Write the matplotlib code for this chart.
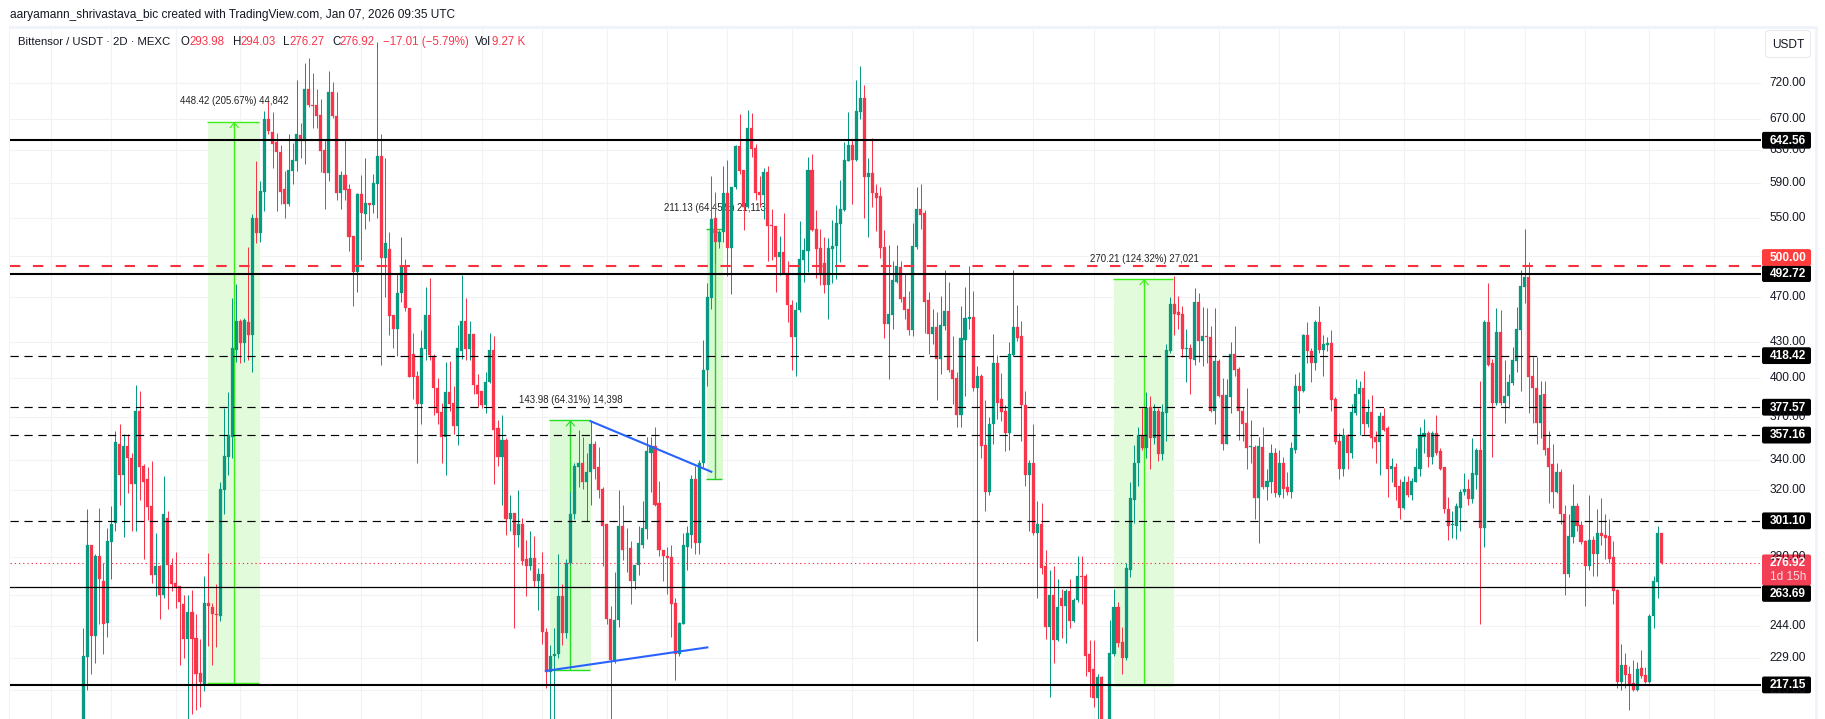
"""
Bittensor / USDT 2D candles with drawn levels, recreated from a TradingView snapshot.
"""

import matplotlib
matplotlib.use("Agg")
import matplotlib.pyplot as plt
from matplotlib.patches import FancyBboxPatch, Rectangle

opens = [
    195,229.5,287,239.5,281,267,245.5,288.5,300,351,
    330,349.5,341.5,324,375,336,327,310,270.5,275,
    259.5,303,276,266,264.5,255,238,251,238.5,222.5,
    217.5,255.5,253.5,250,249,320,342,356,423,448,
    429,447,436,550,534,580,670,653,640,628,
    583,566,605,617,649,642,712,690,689,676,
    630,602,708,675,578,600,583,531,494,577,
    555,567,565,589,623,508,517,454,441,474,
    499,460,420,402,380,424,454,418,392,374,
    356,389,381,364,422,448,424,437,395,390,
    379,397,423,362,342,354,302,306,293,299.5,
    279,275,279.5,267,271,241.5,223,230,231,259,
    241,277,305,335,338,325,332,351,335,321,
    299,247.5,228,247,298,285,285,267,276,287,
    296,345,349.5,312,284,281,280,255.5,231,245,
    286,293,327,288,338,407,469,550,525,535,
    578,518,585,635,606,563,658,633,580,576,
    603,543,542,509,514,493,463,434,458,506,
    515,606,538,518,503,482,517,521,544,559,
    617,637,618,680,699,597,602,579,575,519,
    446,454,485,499,470,459,440,520,560,556,
    467,437,443,416,444,457,407,400,372,432,
    450,452,392,402,350,319,365,412,384,375,
    359,419,443,435,379,330,338,294,299.5,275,
    243.5,259.5,237.5,258,254,262,246.5,257,270,269.5,
    231,224,211.5,220.5,200,198,231,253.5,236.5,229,
    273,314,338,357,348,378,355,375,344,373,
    422,464,456,455,424,425,415,466,431,435,
    434,375,414,387,351,385,420,407.5,375,366,
    349,349,315,349,322,325,345,317,338,322,
    319,347,394,390,436,422,412,447,423,427,
    429,384,353,334,357.5,345,373,388,392,365,
    374,356,352,371,362,334,335,323,309,325,
    317,325,334,356,359,342,359,346,335,308.5,
    298.5,298,309,319,321,314.5,330,347,297,447,
    412,381,439,381,386,396,414,440,480,489,
    402,392,366,388,348,337,319,332,305.5,271,
    291.5,310,298.5,289,275,290,282,294,293,292,
    280,262.5,218.5,226,222,218,215,224.5,221.5,218.5,
    249,266.5,293.98,
]
highs = [
    243,308,287,282,309,277,297,310,360,365,
    358,358,345,395,390,337,335,339,294,276,
    329.5,307,279.5,283,264.5,259.5,259.5,262.5,250,238,
    270,282.5,255.5,265.5,325.5,377,389,469,483,450,
    451,520,555,617,592,681,693,680,652,637,
    605,650,639,725,665,750,757,735,712,697,
    643,737,722,708,605,644,589,531,578,600,
    620,567,601,782,651,620,535,454,492,530,
    507,460,438,406,440,480,488,420,400,381,
    413,414,394,445,491,469,448,437,403,390,
    405,438,435,368,372,355,317,306,320,303,
    290,295,292,274,283,243,235,243,282,265.5,
    279,319,338,361,356,345,367,353,349,322,
    299,254,272,320,311,297,289.5,276,298,313,
    356,356,363,326,284,286,287,258,246,294,
    298,330,336,340,432,484,599,580,537,610,
    618,586,636,677,606,682,678,638,599,608,
    610,560,542,531,556,505,467,466,547,529,
    622,625,559,538,530,529,548,565,594,640,
    680,643,725,745,717,620,646,589,586,537,
    522,505,522,505,492,476,545,586,589,559,
    475,459,456,471,496,485,435,405,462,480,
    500,476,410,403,383,370,437,419,404,379,
    430,496,463,448,390,340,365,313,312,284,
    273,275,268,263,263,268,258,281,281,271,
    237.5,237.5,222,221,201,247,263,256,243.5,277,
    325.5,350.5,363,377,389,386,380,377,380,428,
    470,490,471,462,441,428,479,474,461,460,
    444,460,416,400,399,430,444,409,378,392,
    368,350,356,363,334,351,348,347,342,332,
    352,403,405,437,447,425,449,462,436,434,
    440,385,359,362,358,380,399,398,406,384,
    387,360,374,377,364,341,338,327,329,329,
    328,348,363,369,360,360,372,348,335,316,
    307,312,321,331,327,355,348,398,449,484,
    416,460,458,415,403,426,461,496,539,504,
    417,417,398,398,360,351,338,334,311,305,
    324,312,301,290,317,292,308,315,305,302,
    289,263,235.5,231.5,225.5,228,227.5,233,225,250,
    270,298,294.03,
]
lows = [
    190,215,222,227,245,231,239,268,295,311,
    291.5,318,295,295,314,279,301.5,266,259,247.5,
    258,252.5,262,253,226,229,203,205,206.5,208,
    214.5,234.5,226,234,246.5,305,330,341,413,412.5,
    413,415,405,524,525,558,650,608,558,566,
    550,564,589,604,620,613,687,658,659,603,
    560,593,672,571,560,571,515,462,475,506,
    539,547,556,550,411,470,436,425,418,466,
    457,401,384,338,365,415,415,372,365,338,
    330,375,358,350,416,415,415,388,378,377,
    373,396,324,336,311,293,295,243,286,276,
    259,273,264,252,235.5,216,203,203,229,235,
    238.5,276,302,322,321,301,311,327,315,275,
    245,203,227,243.5,278.5,272,255,263,270.5,285,
    290.5,319,310,281,267,260.5,239,219.5,230,245,
    273,285,282,282,335,394,459,503,518,525,
    490,473,583,601,537,561,621,571,563,549,
    505,506,475,491,492,447,407,402,456,485,
    494,536,488,482,474,450,484,487,504,558,
    617,566,617,671,550,530,563,536,508,433,
    399,441,484,466,450,436,435,517,539,438,
    420,428,383,403,440,405,380,363,363,386,
    441,390,237,341,307,317,351,369,367,346,
    347,418,431,353,323,295,293,258,271,238,
    212,227,237,238.5,236,243,246,256,255,221,
    212,208,203,200,195,195,230,234,222,228,
    269,300,323,347,341,334,351,339,340,353,
    421,436,441,417,397,388,411,413,410,412,
    374,365,385,347,351,373,402,354,353,334,
    338,302,288,321,314,318,316,316,315,317,
    315,345,373,389,412,397,407,421,402,422,
    375,351,327,329,334,341,372,357,357,363,
    348,338,330,360,316,325,314,302,308,316,
    314,325,329,345,335,337,343,333,306,290,
    291,290.5,295,317,311,312,321,245,286,410,
    342,379,379,366,377,395,405,390,465,373,
    366,351,355,343,312,309,318,299,260,269,
    288,295,287.5,254,273,270,270,287,279,277,
    255,216,215,216,206.5,214.5,214.5,220,218,218,
    243,258,276.27,
]
closes = [
    230,287,239.5,281,268,245,289.5,299,352.5,330,
    349.5,341,324,375,335,325.5,309.5,270.5,275,259.5,
    305,276,265.5,264,256,238,251,238,222,218.5,
    255.5,254,250,249.5,320.5,342.5,357.5,425,448,429,
    449,436,550,534,581,670,655,638,628,580,
    566,606,618,650,642,712,689,688,675,629,
    602,708,674,578,600,582,530,494,577,556,
    567,565,590,623,508,524,453,441,474,499,
    460,401,401,380,425,454,419,392,373,356,
    389,380,364,425,448,424,437,395,388,379,
    397,423,361,342,354,302,306,293,299,278,
    275,279.5,267,271,241.5,223,230,231,259,241,
    277,305,336,338,325,332,351,334,320,298,
    247.5,228,247,298,284,285.5,267,276,288,297,
    346,349.5,311,284,281,279.5,255,231,245.5,287,
    294,327,288,338,407,470,549,525,535,578,
    518,586,635,605,563,658,632,579,576,603,
    542,542,509,514,492,463,434,458,507,516,
    606,537,517,491,482,518,521,545,560,618,
    637,618,681,699,597,602,578,573,518,446,
    455,486,500,468,458,440,521,560,554,466,
    437,443,416,445,457,407,399,372,433,451,
    452,392,402,349.5,319,365,412,381,374,359,
    420,443,433,379,330,338,294,299.5,274,243.5,
    259.5,237.5,253.5,254,262,246.5,257,270,269,230,
    223,211.5,220.5,203,197,231.5,253.5,236,229,274,
    315,338,357,348,377,355,375,344,374,423,
    464,455,454,424,425,416,466,431,435,434,
    375,414,386,351,387,420,407,375,365,348,
    349.5,315,349.5,322,326,345,318,338,321,319,
    348,394,390,436,422,412,447,423,428,429,
    383,352,334,357.5,345,374,388,392,365,374,
    355,352,371,361,334,336,322,309,325,317,
    326,335,357,359,342,359,345,334,308,298,
    299,310,319,321,314.5,331,347,297,447,411,
    381,439,381,386,397,415,441,481,489,401,
    392,366,387,347,335,319,332,305,271,292,
    310,298,288.5,275,290,282,294,292,291,279,
    262,218.5,226,221.5,217.5,215,224,221,218.5,249,
    267,294,276.92,
]

# bar numbers where the time grid falls
time_grid = [-8, 7, 23, 39, 53, 69, 84, 99, 114, 130, 145, 160, 176, 191, 206, 221, 236,
             251, 266, 282, 297, 312, 328, 343, 358, 373, 389, 405]
price_grid = [720, 670, 630, 590, 550, 510, 470, 430, 400, 370, 340, 320, 280, 260, 244, 229, 215]
# 510 and 260 sit fully behind the value labels, so they get no text
tick_prices = [720, 670, 630, 590, 550, 470, 430, 400, 370, 340, 320, 280, 244, 229, 215]
tick_labels = ["720.00", "670.00", "630.00", "590.00", "550.00", "470.00", "430.00", "400.00",
               "370.00", "340.00", "320.00", "280.00", "244.00", "229.00", "215.00"]

thick_levels = [642.56, 492.72, 217.15]
thin_levels = [263.69]
dashed_levels = [418.42, 377.57, 357.16, 301.10]
red_level = 500.00
last_close = 276.92

# price range tools: start bar, end bar, base, top, label
range_starts = [31, 116, 155, 256]
range_ends = [44, 126, 159, 271]
range_bases = [218.00, 223.90, 327.58, 217.15]
range_tops = [666.42, 367.88, 538.71, 487.36]
range_labels = ["448.42 (205.67%) 44,842", "143.98 (64.31%) 14,398",
                "211.13 (64.45%) 21,113", "270.21 (124.32%) 27,021"]
range_fills = ["#e2fcdb", "#dcfad6", "#dafad2", "#e2fcdb"]
range_lines = ["#3cf015", "#22dd22", "#22cc22", "#3cf015"]

trend_x = [[126, 156], [114.9, 155]]
trend_y = [[367.2, 332.0], [223.3, 234.0]]

UP = "#089981"
DOWN = "#f7364c"
INK = "#131722"
GRID = "#f1f2f4"
FONT = ["Liberation Sans", "DejaVu Sans"]

plt.rcParams["font.family"] = FONT

fig = plt.figure(figsize=(18.25, 7.19), dpi=100, facecolor="white")
ax = fig.add_axes([10 / 1825, 0, (1761 - 10) / 1825, (719 - 29) / 719])
ax.set_yscale("log")
ax.set_xlim(-18.2, 416.7)
ax.set_ylim(202.9, 802)
ax.minorticks_off()
ax.tick_params(left=False, bottom=False, labelleft=False, labelbottom=False, which="both")
for spine in ax.spines.values():
    spine.set_visible(False)

ax.vlines(time_grid, 202.9, 802, color=GRID, lw=0.75, zorder=0)
ax.hlines(price_grid, -18.2, 416.7, color=GRID, lw=0.75, zorder=0)

# measuring tools sit under the candles
for i in range(len(range_labels)):
    left, right = range_starts[i], range_ends[i]
    mid = (left + right) / 2
    base, top = range_bases[i], range_tops[i]
    ax.add_patch(Rectangle((left, base), right - left, top - base, fc=range_fills[i], ec="none", zorder=1))
    ax.hlines([base, top], left - 0.25, right - 0.25, color=range_lines[i], lw=1.0, zorder=1.2)
    ax.vlines(mid, base, top, color=range_lines[i], lw=1.0, zorder=1.2)
    ax.annotate("", (mid, top), xytext=(0, -6), textcoords="offset pixels", zorder=1.2,
                arrowprops=dict(arrowstyle="->,head_width=0.3,head_length=0.35", color=range_lines[i],
                                lw=0.8, shrinkA=0, shrinkB=0))
    ax.annotate(range_labels[i], (mid, top), xytext=(0, 20.5), textcoords="offset pixels",
                ha="center", va="center", fontsize=6.9, color="#222222", zorder=1.5)

bars = range(len(opens))
colors = [UP if c >= o else DOWN for o, c in zip(opens, closes)]
ax.vlines(bars, lows, highs, color=colors, lw=0.72, zorder=3)
ax.bar(bars, [c - o for o, c in zip(opens, closes)], bottom=opens, width=0.76, color=colors,
       edgecolor=colors, linewidth=0.2, zorder=3.1)

for level in thick_levels:
    ax.axhline(level, color="black", lw=1.5, zorder=4)
for level in thin_levels:
    ax.axhline(level, color="black", lw=0.9, zorder=4)
for level in dashed_levels:
    ax.axhline(level, color="black", lw=0.85, ls=(0, (7, 4.8)), zorder=4)
ax.axhline(red_level, color="#f7323f", lw=1.5, ls=(0, (5, 6)), zorder=4)
ax.axhline(last_close, color=DOWN, lw=0.8, ls=(0, (1.2, 2.6)), zorder=2.5)

for xs, ys in zip(trend_x, trend_y):
    ax.plot(xs, ys, color="#2962ff", lw=1.5, zorder=5)


def price_y(price):
    return 719 - ax.transData.transform((0, price))[1]


# page furniture in pixel coordinates
ov = fig.add_axes([0, 0, 1, 1], zorder=10)
ov.set_xlim(0, 1825)
ov.set_ylim(719, 0)
ov.axis("off")
ov.patch.set_alpha(0)

ov.add_patch(Rectangle((9, 26), 1809, 3, fc="#f0f3fa", ec="none"))
ov.add_patch(Rectangle((9, 26), 1.5, 693, fc="#f0f3fa", ec="none"))
ov.add_patch(Rectangle((1815, 26), 3, 693, fc="#f0f3fa", ec="none"))

ov.text(10, 15, "aaryamann_shrivastava_bic created with TradingView.com, Jan 07, 2026 09:35 UTC",
        fontsize=8.6, color=INK, va="center")

ov.text(18, 42, "Bittensor / USDT · 2D · MEXC", fontsize=8.2, color=INK, va="center")
legend_parts = [
    (181, "O", INK), (189, "293.98", DOWN), (232.7, "H", INK), (240.7, "294.03", DOWN),
    (283.3, "L", INK), (289.3, "276.27", DOWN), (332.7, "C", INK), (339.3, "276.92", DOWN),
    (383.3, "−17.01 (−5.79%)", DOWN), (475, "Vol", INK), (491.7, "9.27 K", DOWN),
]
for px, part, col in legend_parts:
    ov.text(px, 42, part, fontsize=8.3, color=col, va="center")

ov.add_patch(FancyBboxPatch((1767, 32), 42, 24, boxstyle="round,pad=1.5,rounding_size=4",
                            fc="white", ec="#e8eaf0", lw=0.8))
ov.text(1788, 44.5, "USDT", fontsize=8.6, color=INK, ha="center", va="center")

for price, label in zip(tick_prices, tick_labels):
    ov.text(1788, price_y(price), label, fontsize=8.6, color=INK, ha="center", va="center")

# value labels, some pushed off their level so they do not overlap
box_labels = [642.56, 418.42, 377.57, 357.16, 301.10, 217.15, 492.72, 263.69]
box_shifts = [0, 0, 0, 0, 0, 0, 0, 6]
for price, shift in zip(box_labels, box_shifts):
    cy = price_y(price) + shift
    ov.add_patch(FancyBboxPatch((1763, cy - 7.4), 47, 14.8, boxstyle="round,pad=1,rounding_size=2",
                                fc="black", ec="none"))
    ov.text(1788, cy + 0.3, f"{price:.2f}", fontsize=8.6, color="white", ha="center", va="center",
            fontweight="bold")

cy = price_y(red_level) - 8.7
ov.add_patch(FancyBboxPatch((1763, cy - 7.4), 47, 14.8, boxstyle="round,pad=1,rounding_size=2",
                            fc="#ff3b3b", ec="none"))
ov.text(1788, cy + 0.3, f"{red_level:.2f}", fontsize=8.6, color="white", ha="center", va="center", fontweight="bold")

cy = price_y(last_close)
ov.add_patch(FancyBboxPatch((1763, cy - 7.4), 47, 29, boxstyle="round,pad=1,rounding_size=2",
                            fc="#f23f55", ec="none"))
ov.text(1788, cy + 0.3, f"{last_close:.2f}", fontsize=8.6, color="white", ha="center", va="center", fontweight="bold")
ov.text(1788, cy + 14.5, "1d 15h", fontsize=8.6, color="#ffd9de", ha="center", va="center")

assert len(opens) == len(highs) == len(lows) == len(closes)
fig.savefig("out.png", dpi=100)
